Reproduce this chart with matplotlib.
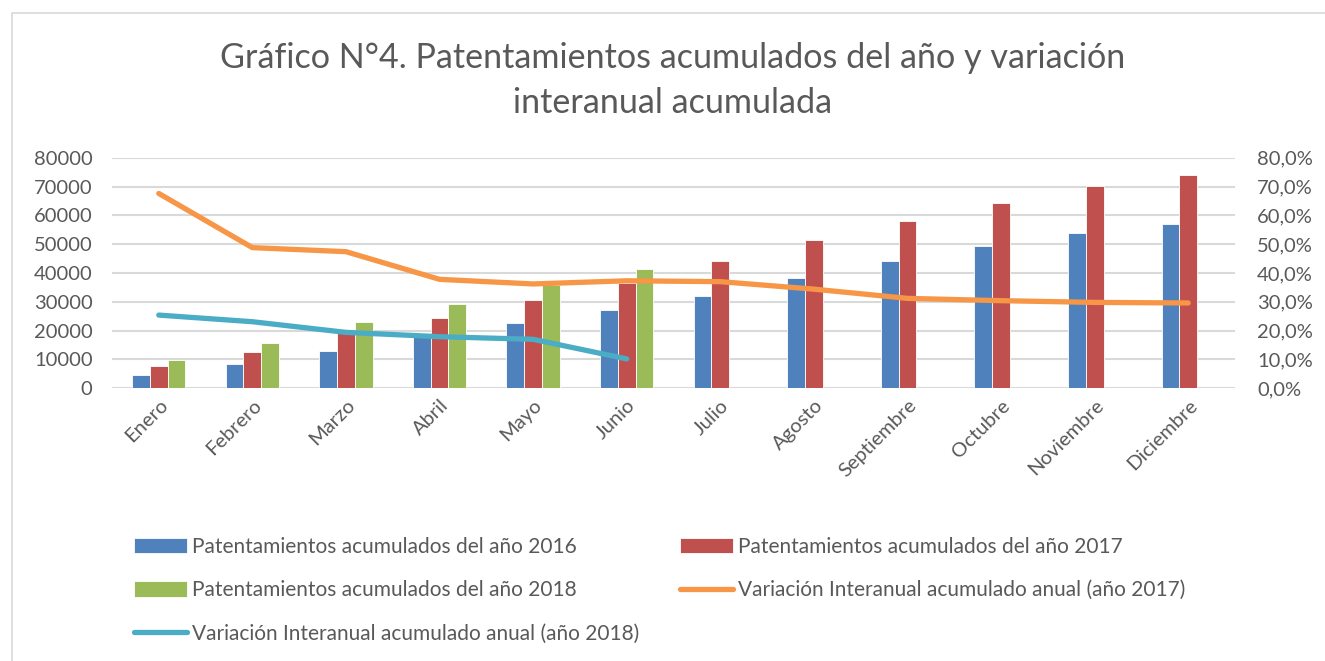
import matplotlib
matplotlib.use("Agg")
import matplotlib.pyplot as plt
import numpy as np
from matplotlib.patches import Rectangle
from matplotlib.ticker import FuncFormatter, MultipleLocator

plt.rcParams['font.family'] = ['Lato', 'DejaVu Sans']

months = ["Enero", "Febrero", "Marzo", "Abril", "Mayo", "Junio", "Julio",
          "Agosto", "Septiembre", "Octubre", "Noviembre", "Diciembre"]
pat_2016 = [4500, 8500, 12800, 18500, 22600, 27100, 32100, 38300, 44100, 49300, 53900, 57000]
pat_2017 = [7800, 12700, 19100, 24500, 30700, 36500, 44100, 51500, 58000, 64400, 70200, 74100]
pat_2018 = [9900, 15700, 22900, 29100, 35900, 41400, np.nan, np.nan, np.nan, np.nan, np.nan, np.nan]
var_2017 = [67.6, 48.8, 47.4, 37.8, 36.2, 37.3, 37.0, 34.4, 31.2, 30.4, 29.8, 29.6]
var_2018 = [25.4, 23.1, 19.4, 17.9, 17.0, 10.2]

labels = ["Patentamientos acumulados del año 2016",
          "Patentamientos acumulados del año 2017",
          "Patentamientos acumulados del año 2018",
          "Variación Interanual acumulado anual (año 2017)",
          "Variación Interanual acumulado anual (año 2018)"]

C_BLUE, C_RED, C_GREEN = "#4F81BD", "#C0504D", "#9BBB59"
C_ORANGE, C_CYAN = "#F79646", "#4BACC6"
TXT = "#595959"
GRID = "#D9D9D9"

W, H = 1325, 661
fig = plt.figure(figsize=(W / 100, H / 100), dpi=100)
fig.patch.set_facecolor("white")
fig.patches.append(Rectangle((12 / W, -0.01), 1.0, 1 - 13 / H + 0.01, transform=fig.transFigure,
                             fill=False, edgecolor=GRID, lw=1.2))

ax = fig.add_axes([112 / W, 1 - 388.3 / H, (1235 - 112) / W, (388.3 - 157.7) / H])
x = np.arange(len(months))
bw = 0.19
ax.bar(x - bw, pat_2016, bw, color=C_BLUE, edgecolor="white", linewidth=0.6, label=labels[0], zorder=2)
ax.bar(x, pat_2017, bw, color=C_RED, edgecolor="white", linewidth=0.6, label=labels[1], zorder=2)
ax.bar(x + bw, pat_2018, bw, color=C_GREEN, edgecolor="white", linewidth=0.6, label=labels[2], zorder=2)
ax.set_xlim(-0.5, len(months) - 0.5)
ax.set_ylim(0, 80000)
ax.yaxis.set_major_locator(MultipleLocator(10000))
ax.grid(axis="y", color=GRID, lw=1.5, zorder=0)
ax.set_axisbelow(True)
for s in ax.spines.values():
    s.set_visible(False)
ax.tick_params(axis="both", length=0, colors=TXT, labelsize=14.5)
ax.tick_params(axis="y", pad=14)
ax.set_xticks(x)
ax.set_xticklabels(months, rotation=45, ha="right", va="top", rotation_mode="anchor")
ax.tick_params(axis="x", pad=6)

ax2 = ax.twinx()
ax2.set_ylim(0, 80)
ax2.yaxis.set_major_locator(MultipleLocator(10))
ax2.yaxis.set_major_formatter(FuncFormatter(lambda v, p: f"{v:.1f}%".replace(".", ",")))
for s in ax2.spines.values():
    s.set_visible(False)
ax2.tick_params(axis="y", length=0, colors=TXT, labelsize=14.5, pad=16)
ax2.plot(x, var_2017, color=C_ORANGE, lw=3.8, solid_capstyle="round", label=labels[3], zorder=3)
ax2.plot(x[:len(var_2018)], var_2018, color=C_CYAN, lw=3.8, solid_capstyle="round", label=labels[4], zorder=3)

fig.text(673 / W, 1 - 58 / H, "Gráfico N°4. Patentamientos acumulados del año y variación",
         ha="center", va="center", fontsize=24.6, color=TXT)
fig.text(673 / W, 1 - 103 / H, "interanual acumulada",
         ha="center", va="center", fontsize=24.6, color=TXT)

h1, l1 = ax.get_legend_handles_labels()
h2, l2 = ax2.get_legend_handles_labels()
hs = h1 + h2
order = [0, 2, 4, 1, 3]
leg = fig.legend([hs[i] for i in order], [labels[i] for i in order], ncol=2,
                 loc="upper left", bbox_to_anchor=(115 / W, 1 - 518 / H),
                 frameon=False, fontsize=15, labelcolor=TXT,
                 handlelength=2.55, handleheight=0.77, handletextpad=0.24,
                 columnspacing=1.94, labelspacing=1.12)

fig.savefig("out.png", dpi=100)
